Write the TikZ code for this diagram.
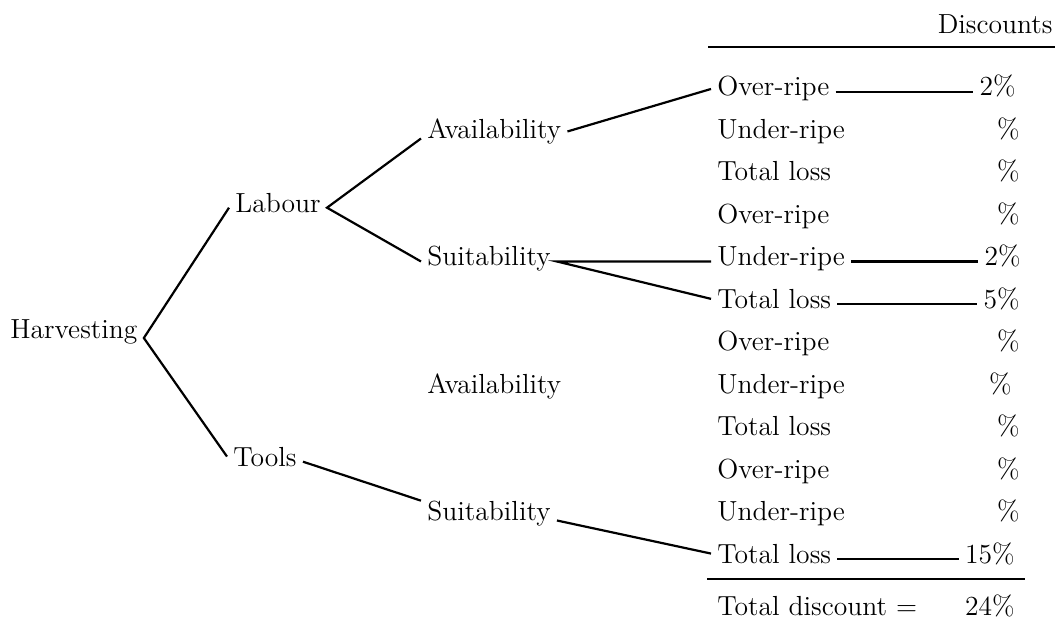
\documentclass[tikz,border=0pt]{standalone}
\usepackage{tikz}
\usepackage{amsmath}

\begin{document}
\begin{tikzpicture}[x=0.5pt, y=-0.5pt,
    lbl/.style={anchor=base west, inner xsep=3pt, inner ysep=0pt, font=\fontsize{13.8}{16}\selectfont},
    pct/.style={anchor=base east, inner xsep=3pt, inner ysep=0pt, font=\fontsize{13.8}{16}\selectfont},
    branch/.style={line width=1.1pt},
    rule/.style={line width=1pt}]

    \useasboundingbox (0,0) rectangle (1057,621);

    % LEFT: the tree
    \node[lbl] (harv) at (4,338) {Harvesting};
    \node[lbl] (labour) at (229,212) {Labour};
    \node[lbl] (tools) at (227,466) {Tools};
    \node[lbl] (avail) at (421,138.5) {Availability};
    \node[lbl] (suit) at (421,265.8) {Suitability};
    \node[lbl] (avail2) at (421,393.2) {Availability};
    \node[lbl] (suit2) at (421,520.5) {Suitability};

    \draw[branch] (labour.mid west) -- (harv.base east) -- (tools.west);
    \draw[branch] (avail.base west) -- (labour.mid east) -- (suit.mid west);
    \draw[branch] (tools.mid east) -- (suit2.north west);

    % RIGHT: the discounts column
    \node[pct] (head) at (1059,33) {Discounts};
    \coordinate (topL) at (708,47);
    \coordinate (topR) at (1055,47);
    \draw[rule] (topL) -- (topR);

    \node[lbl] (r0) at (711,96) {Over-ripe};
    \node[lbl] (r1) at (711,138.5) {Under-ripe};
    \node[lbl] (r2) at (711,180.9) {Total loss};
    \node[lbl] (r3) at (711,223.4) {Over-ripe};
    \node[lbl] (r4) at (711,265.8) {Under-ripe};
    \node[lbl] (r5) at (711,308.3) {Total loss};
    \node[lbl] (r6) at (711,350.7) {Over-ripe};
    \node[lbl] (r7) at (711,393.2) {Under-ripe};
    \node[lbl] (r8) at (711,435.6) {Total loss};
    \node[lbl] (r9) at (711,478.1) {Over-ripe};
    \node[lbl] (r10) at (711,520.5) {Under-ripe};
    \node[lbl] (r11) at (711,563) {Total loss};

    \node[pct] (p0) at (1022,96) {2\%};
    \node[pct] (p1) at (1026,138.5) {\%};
    \node[pct] (p2) at (1026,180.9) {\%};
    \node[pct] (p3) at (1026,223.4) {\%};
    \node[pct] (p4) at (1027,265.8) {2\%};
    \node[pct] (p5) at (1026,308.3) {5\%};
    \node[pct] (p6) at (1026,350.7) {\%};
    \node[pct] (p7) at (1018,393.2) {\%};
    \node[pct] (p8) at (1026,435.6) {\%};
    \node[pct] (p9) at (1026,478.1) {\%};
    \node[pct] (p10) at (1026,520.5) {\%};
    \node[pct] (p11) at (1021,563) {15\%};

    % Branches into the column
    \draw[branch] (avail.east) -- (r0.west);
    \draw[branch] (r4.mid west) -- (suit.mid east) -- (r5.west);
    \draw[branch] (suit2.base east) -- (r11.west);

    % Lines out to the values
    \draw[branch] (r0.mid east) -- (p0.mid west);
    \draw[branch] (r4.mid east) -- (p4.mid west);
    \draw[branch] (r5.mid east) -- (p5.mid west);
    \draw[branch] (r11.mid east) -- (p11.mid west);

    % Total
    \coordinate (botL) at (707,579);
    \coordinate (botR) at (1025,579);
    \draw[rule] (botL) -- (botR);
    \node[lbl] (total) at (711,615) {Total discount =};
    \node[pct] (ptotal) at (1021,615) {24\%};

\end{tikzpicture}
\end{document}
